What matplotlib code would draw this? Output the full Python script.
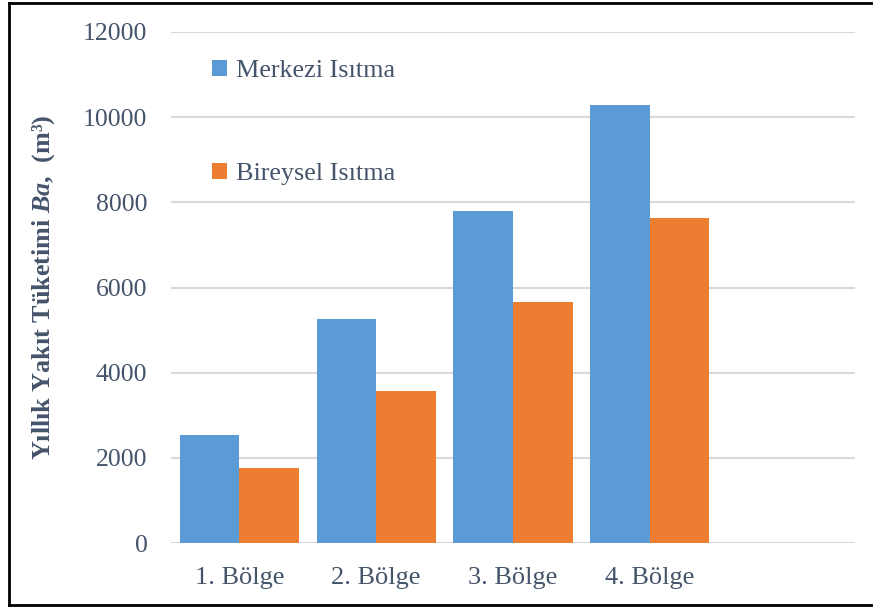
import matplotlib.pyplot as plt
import numpy as np
from matplotlib.lines import Line2D

# Yıllık yakıt tüketimi (m3), bölgelere göre
bolgeler = ['1. Bölge', '2. Bölge', '3. Bölge', '4. Bölge', '']
merkezi = [2540, 5260, 7790, 10280]
bireysel = [1760, 3570, 5650, 7630]
yticks = [0, 2000, 4000, 6000, 8000, 10000, 12000]

plt.rcParams['font.family'] = 'Liberation Serif'
plt.rcParams['mathtext.fontset'] = 'custom'
plt.rcParams['mathtext.rm'] = 'Liberation Serif'
plt.rcParams['mathtext.bfit'] = 'Liberation Serif:italic:bold'

yazi = '#44546A'
mavi = '#5B9BD5'
turuncu = '#ED7D31'

fig = plt.figure(figsize=(8.73, 6.08), dpi=100)
ax = fig.add_axes([171 / 873, 65 / 608, 684 / 873, 511 / 608])

x = np.arange(len(merkezi))
w = 0.435
ax.bar(x - w / 2, merkezi, w, color=mavi, label='Merkezi Isıtma', zorder=3)
ax.bar(x + w / 2, bireysel, w, color=turuncu, label='Bireysel Isıtma', zorder=3)

ax.set_xlim(-0.5, len(bolgeler) - 0.5)
ax.set_ylim(0, 12000)
ax.set_yticks(yticks)
ax.set_xticks(np.arange(len(bolgeler)))
ax.set_xticklabels(bolgeler)
ax.yaxis.grid(True, color='#D9D9D9', linewidth=1.5, zorder=0)
ax.set_axisbelow(True)
for s in ax.spines.values():
    s.set_visible(False)
ax.tick_params(axis='y', length=0, pad=17, labelsize=18.5, labelcolor=yazi)
ax.tick_params(axis='x', length=0, pad=17, labelsize=19, labelcolor=yazi)

ax.set_ylabel(r'Yıllık Yakıt Tüketimi $\mathbfit{Ba}$,  (m³)',
              fontsize=18.8, fontweight='bold', color=yazi)
ax.yaxis.set_label_coords(-0.167, 0.5)

leg = ax.legend(loc='upper left', bbox_to_anchor=(0.045, 0.965), frameon=False,
                fontsize=18.8, handlelength=0.55, handleheight=0.55,
                handletextpad=0.35, labelspacing=3.1, borderaxespad=0)
for t in leg.get_texts():
    t.set_color(yazi)

# çerçeve
fig.add_artist(Line2D([9 / 873, 9 / 873], [3 / 608, 605 / 608], color='black',
                      linewidth=2, transform=fig.transFigure))
fig.add_artist(Line2D([9 / 873, 1], [605 / 608, 605 / 608], color='black',
                      linewidth=2, transform=fig.transFigure))
fig.add_artist(Line2D([9 / 873, 1], [3 / 608, 3 / 608], color='black',
                      linewidth=2, transform=fig.transFigure))

fig.savefig('out.png', dpi=100)
